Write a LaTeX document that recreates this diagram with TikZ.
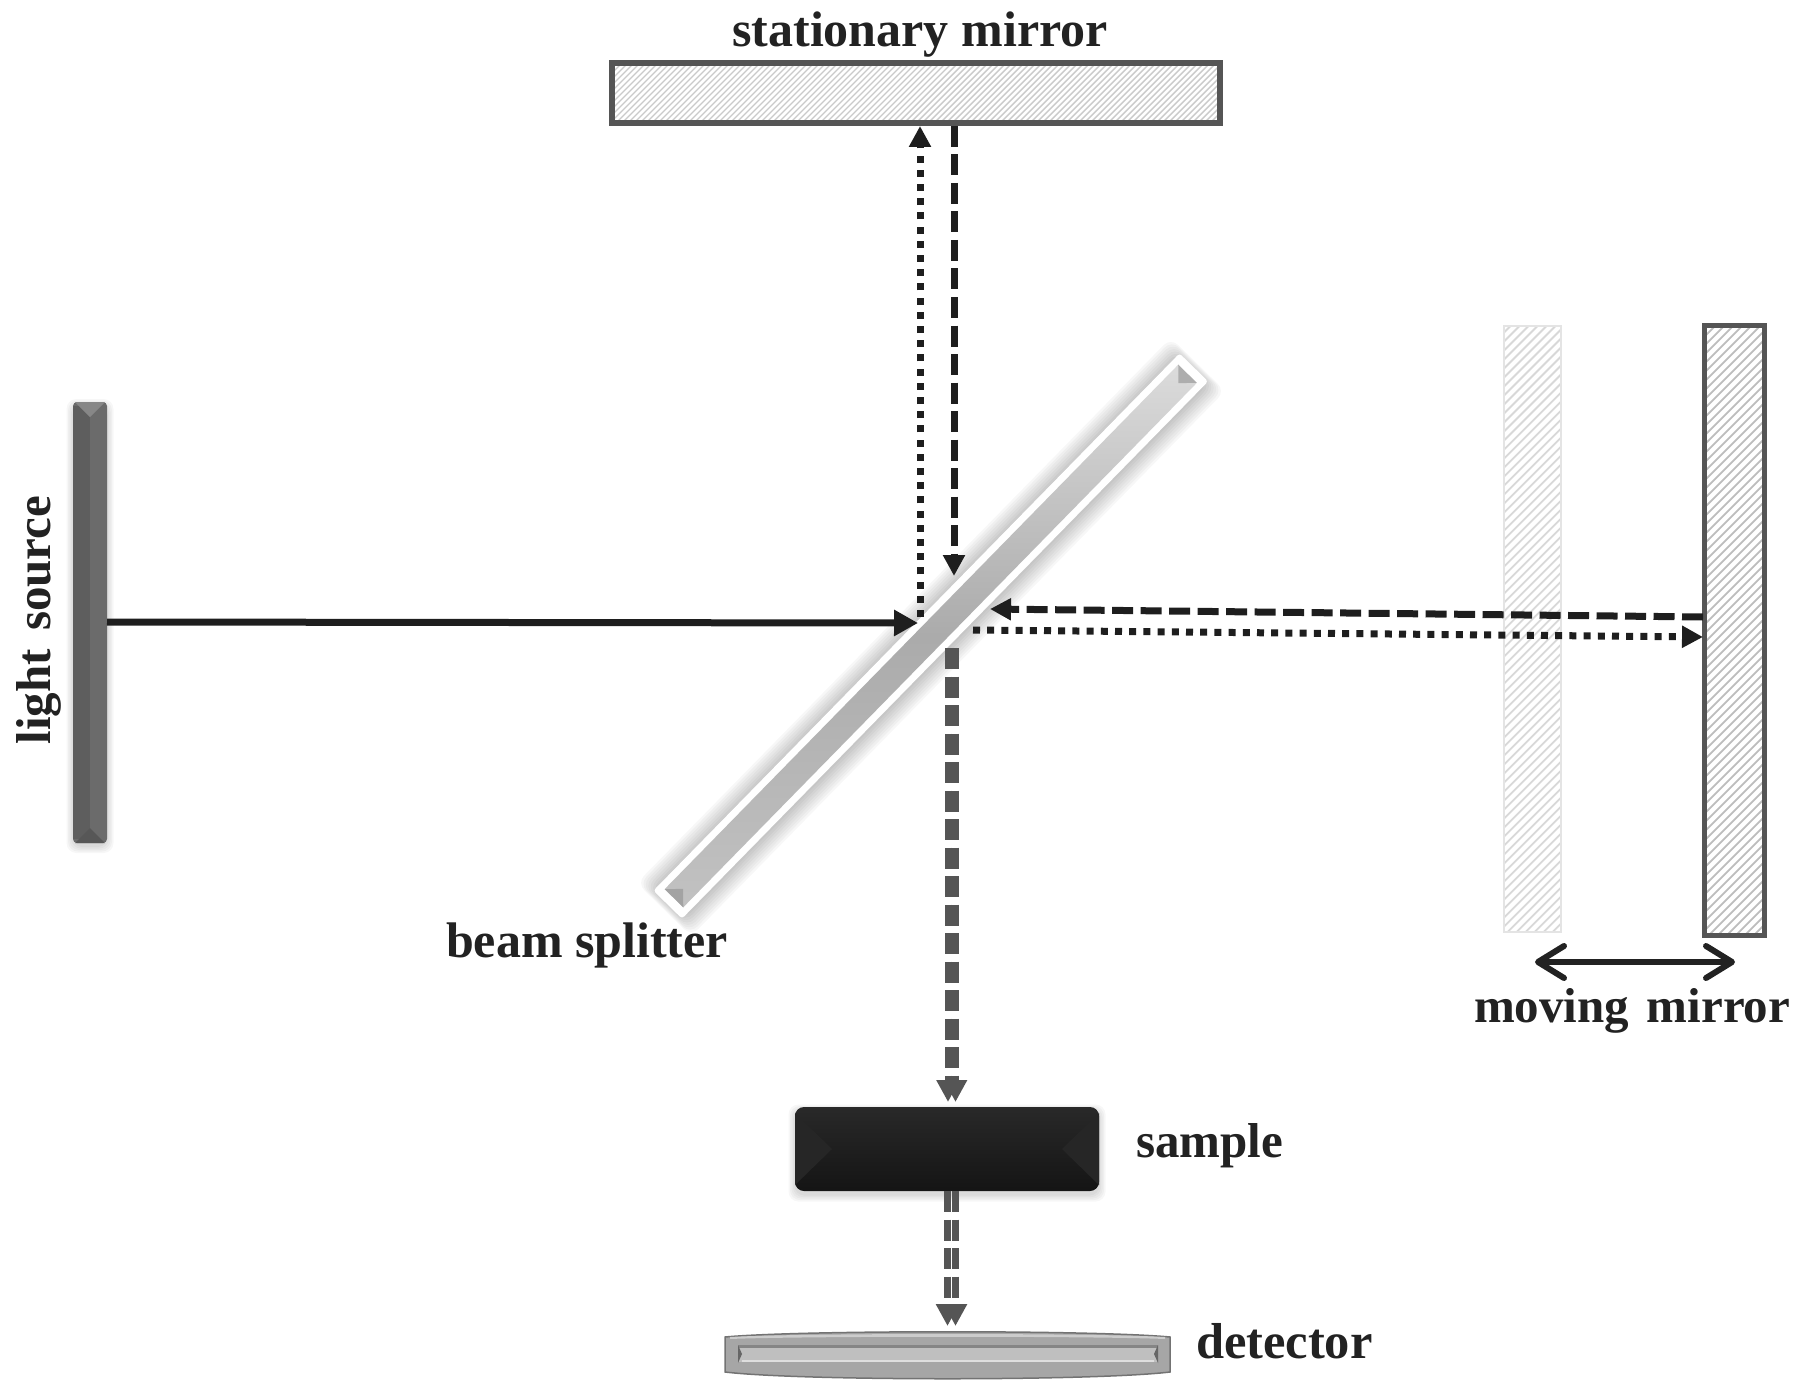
\documentclass[tikz,border=0pt]{standalone}
\usepackage{fontspec}
\setmainfont{Liberation Serif}
\usetikzlibrary{arrows.meta,calc}
\definecolor{ink}{HTML}{222222}
\definecolor{frame}{HTML}{555555}
\definecolor{beam}{HTML}{1E1E1E}
\definecolor{greybeam}{HTML}{555555}
\definecolor{hatchdark}{HTML}{BDBDBD}
\definecolor{hatchfine}{HTML}{CACACA}
\definecolor{hatchpale}{HTML}{D8D8D8}
\tikzset{
  lbl/.style={font=\fontsize{50pt}{55pt}\selectfont\bfseries,text=ink,inner sep=0pt,outer sep=0pt},
  hatchwide/.style={path picture={\foreach \i in {-720,-711,...,720}{
      \draw[#1,line width=1.8pt] ([xshift=\i pt]path picture bounding box.center) +(-700pt,-700pt) -- +(700pt,700pt);}}},
  hatchfinebox/.style={path picture={\foreach \i in {-720,-714,...,720}{
      \draw[#1,line width=1.4pt] ([xshift=\i pt]path picture bounding box.center) +(-700pt,-700pt) -- +(700pt,700pt);}}},
  mirrorbox/.style={draw=frame,line width=5.5pt,fill=white,inner sep=0pt,outer sep=0pt},
  ghostbox/.style={draw=hatchpale!70,line width=2pt,fill=white,hatchwide=hatchpale,inner sep=0pt,outer sep=0pt},
  solidbeam/.style={draw=beam,line width=7pt,-{Triangle[length=24pt,width=25pt]}},
  dashbeam/.style={draw=beam,line width=7pt,dash pattern=on 21pt off 7.5pt,-{Triangle[length=21pt,width=21pt]}},
  dotbeam/.style={draw=beam,line width=7pt,dash pattern=on 7pt off 7.2pt,-{Triangle[length=21pt,width=21pt]}},
  outbeam/.style={draw=greybeam,line width=7pt,dash pattern=on 21pt off 7.5pt,-{Triangle[length=22pt,width=22pt]}},
  softshadow/.style={fill=black,opacity=0.03,draw=none,inner sep=0pt,outer sep=0pt,rounded corners=10pt},
  block/.style={inner sep=0pt,outer sep=0pt,draw=none},
}
\begin{document}
\begin{tikzpicture}[x=1pt,y=-1pt]
\useasboundingbox (0,0) rectangle (1809,1388);
% soft shadows
\foreach \g in {1,3,...,15}{
  \node[softshadow,rotate=45.6,minimum width={748pt+\g pt},minimum height={40pt+2.4*\g pt}] at (931,637) {};
}
\foreach \g in {1,4,...,13}{
  \node[softshadow,minimum width={34pt+\g pt},minimum height={441pt+\g pt}] at (90,626) {};
  \node[softshadow,minimum width={304pt+\g pt},minimum height={84pt+\g pt}] at (947,1153) {};
}
% beam splitter
\node[block,fill=white,rotate=45.6,rounded corners=3pt,minimum width=752pt,minimum height=40pt] (split) at (930.75,636) {};
\node[block,rotate=45.6,minimum width=734pt,minimum height=26pt,top color=black!14,bottom color=black!24,middle color=black!33] (splitcore) at (930.75,636) {};
\fill[black!32] (splitcore.north east) -- (splitcore.south east) -- ($(splitcore.east)!13pt!(splitcore.west)$) -- cycle;
\fill[black!36] (splitcore.north west) -- (splitcore.south west) -- ($(splitcore.west)!13pt!(splitcore.east)$) -- cycle;
% light source
\node[block,fill=black!58,rounded corners=4pt,minimum width=34pt,minimum height=441pt] (source) at (90,622.5) {};
\fill[black!63] ([yshift=-4pt]source.north west) rectangle ([yshift=4pt]source.south);
\fill[black!47] ([xshift=2pt]source.north west) -- ([xshift=-2pt]source.north east) -- ([yshift=-15pt]source.north) -- cycle;
\fill[black!66] ([xshift=2pt]source.south west) -- ([xshift=-2pt]source.south east) -- ([yshift=15pt]source.south) -- cycle;
% mirrors
\node[ghostbox,minimum width=57pt,minimum height=606pt] (ghost) at (1532,628.5) {};
\node[mirrorbox,hatchfinebox=hatchfine,minimum width=608pt,minimum height=60pt] (fixed) at (916,93) {};
\node[mirrorbox,hatchwide=hatchdark,minimum width=60pt,minimum height=610pt] (moving) at (1734.5,630.5) {};
% sample
\node[block,rounded corners=9pt,minimum width=304pt,minimum height=84pt,top color=black!84,bottom color=black!92] (sample) at (947,1149) {};
\fill[black!85] ([yshift=6pt]sample.south west) -- ([yshift=-6pt]sample.north west) -- ([xshift=37pt]sample.west) -- cycle;
\fill[black!85] ([yshift=6pt]sample.south east) -- ([yshift=-6pt]sample.north east) -- ([xshift=-37pt]sample.east) -- cycle;
% detector
\node[block,minimum width=445pt,minimum height=42pt] (detector) at (947.5,1354) {};
\filldraw[draw=black!55,fill=black!35,line width=1.5pt] (725,1337) .. controls (800,1330) and (1095,1330) .. (1170,1337) -- (1170,1372) .. controls (1095,1381) and (800,1381) .. (725,1372) -- cycle;
\fill[black!20] (730,1337) .. controls (800,1333) and (1095,1333) .. (1165,1337) -- (1165,1339) .. controls (1095,1336) and (800,1336) .. (730,1339) -- cycle;
\fill[black!48] (738,1345) -- (1158,1345) -- (1158,1348) -- (738,1348) -- cycle;
\fill[black!25] (738,1348) -- (1158,1348) -- (1158,1362) -- (738,1362) -- cycle;
\fill[black!13] (742,1360) -- (1154,1360) -- (1154,1362) -- (742,1362) -- cycle;
\fill[black!60] (738,1345) -- (742,1354) -- (738,1363) -- cycle;
\fill[black!60] (1158,1345) -- (1154,1354) -- (1158,1363) -- cycle;
% connector end points
\coordinate (solidA) at (107,622);
\coordinate (solidB) at (918,623);
\coordinate (dotUpA) at (920,617);
\coordinate (dotUpB) at (920,126);
\coordinate (dashDnA) at (954,126);
\coordinate (dashDnB) at (954,576);
\coordinate (dashLA) at (1703,617);
\coordinate (dashLB) at (990,609);
\coordinate (dotRA) at (973,630);
\coordinate (dotRB) at (1703,637);
\coordinate (outLA) at (948,648);
\coordinate (outRA) at (955.5,648);
\coordinate (outLB) at (948,1102);
\coordinate (outRB) at (955.5,1102);
\coordinate (detLA) at (947.5,1191);
\coordinate (detRA) at (955.5,1191);
\coordinate (detLB) at (947.5,1326);
\coordinate (detRB) at (955.5,1326);
\coordinate (moveA) at (1535,962);
\coordinate (moveB) at (1735,962);
% beams
\draw[solidbeam] (solidA) -- (solidB);
\draw[dotbeam] (dotUpA) -- (dotUpB);
\draw[dashbeam] (dashDnA) -- (dashDnB);
\draw[dashbeam] (dashLA) -- (dashLB);
\draw[dotbeam] (dotRA) -- (dotRB);
\draw[outbeam] (outLA) -- (outLB);
\draw[outbeam] (outRA) -- (outRB);
\draw[outbeam] (detLA) -- (detLB);
\draw[outbeam] (detRA) -- (detRB);
\draw[draw=ink,line width=5.5pt,{Straight Barb[length=26pt,width=32pt,line width=6pt,round]}-{Straight Barb[length=26pt,width=32pt,line width=6pt,round]}] (moveA) -- (moveB);
% labels
\node[lbl,anchor=base] (lblfixed) at (920,47) {stationary mirror};
\node[lbl,anchor=base,rotate=90,font=\fontsize{49pt}{55pt}\selectfont\bfseries] (lblsource) at (50,620) {light\hspace{0.37em}source};
\node[lbl,anchor=base west] (lblsplit) at (446,957) {beam splitter};
\node[lbl,anchor=base west,font=\fontsize{49pt}{55pt}\selectfont\bfseries] (lblmoving) at (1474,1022) {moving\hspace{0.36em}mirror};
\node[lbl,anchor=base west,font=\fontsize{49pt}{55pt}\selectfont\bfseries] (lblsample) at (1136,1157) {sample};
\node[lbl,anchor=base west,font=\fontsize{50.5pt}{55pt}\selectfont\bfseries] (lbldetector) at (1196,1358) {detector};
\end{tikzpicture}
\end{document}
